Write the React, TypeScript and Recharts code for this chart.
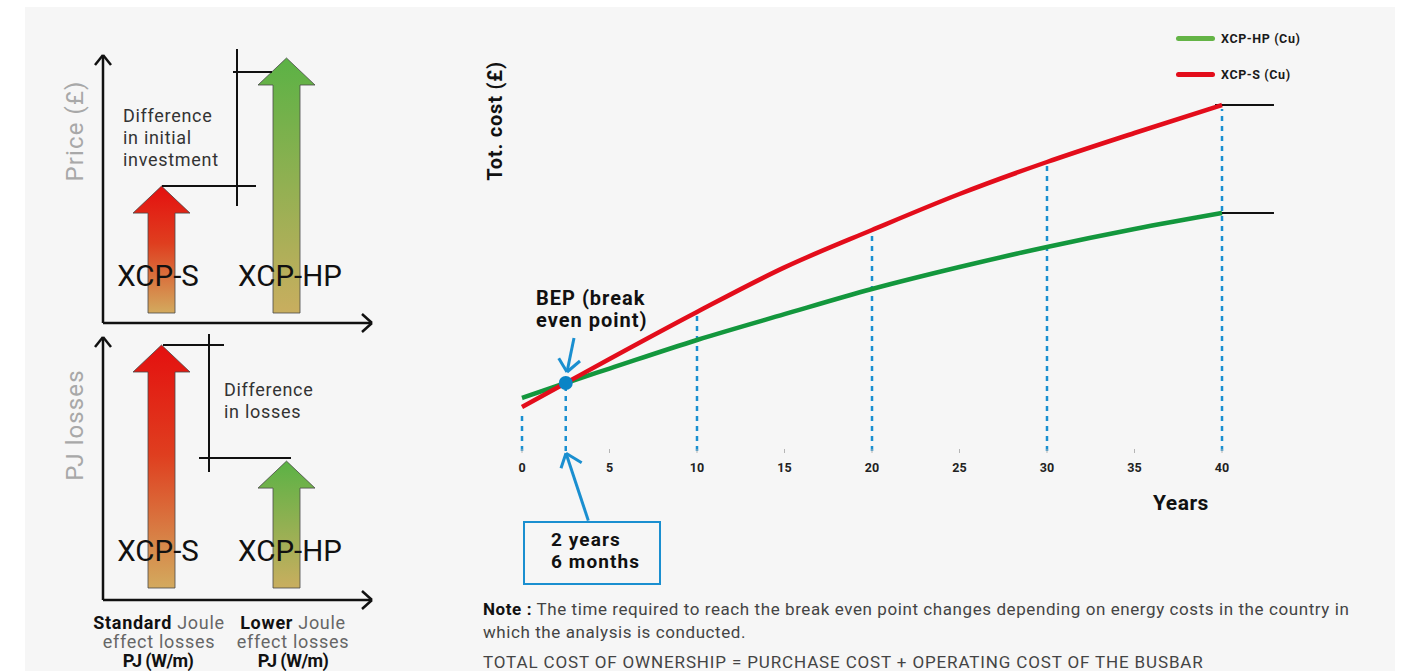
import React from "react";
import {
  BarChart,
  Bar,
  LineChart,
  Line,
  XAxis,
  YAxis,
  ReferenceLine,
  ReferenceDot,
  Legend,
} from "recharts";

// main chart: total cost over time
const years = [0, 2.5, 5, 10, 15, 20, 25, 30, 35, 40];
const xcpS = [11, 17, 23, 34.75, 45.9, 55.25, 64.25, 72.25, 79.5, 86.5];
const xcpHP = [13.25, 17, 20.6, 27.75, 34.2, 40.5, 46, 51, 55.5, 59.5];
const yearTicks = [0, 5, 10, 15, 20, 25, 30, 35, 40];
const markedYears = [0, 2.5, 10, 20, 30, 40];
const bepYear = 2.5;

// left diagrams: arrows
const arrowNames = ["XCP-S", "XCP-HP"];
const arrowPos = [58.5, 183.5];
const priceValues = [4.23, 8.5];
const lossValues = [8.1, 4.23];

const FONT = "Roboto, 'Open Sans', sans-serif";
const BLUE = "#1a8fd0";
const RED = "#e30d1b";
const GREEN = "#13973d";

const lineData = years.map((y, i) => ({ year: y, s: xcpS[i], hp: xcpHP[i] }));
const priceData = arrowNames.map((n, i) => ({ name: n, pos: arrowPos[i], v: priceValues[i] }));
const lossData = arrowNames.map((n, i) => ({ name: n, pos: arrowPos[i], v: lossValues[i] }));

const legendColors: Record<string, string> = { hp: "#64b446", s: RED };

function makeArrow(prefix: string) {
  return function ArrowShape(props: any) {
    const { x, y, width, height, index } = props;
    const head = 27;
    const half = 28.5;
    const cx = x + width / 2;
    const d = `M${x},${y + height} L${x},${y + head} L${cx - half},${y + head} L${cx},${y} L${cx + half},${y + head} L${x + width},${y + head} L${x + width},${y + height} Z`;
    const grad = index === 0 ? `${prefix}Red` : `${prefix}Green`;
    return <path d={d} fill={`url(#${grad})`} stroke="#4a4a4a" strokeWidth={0.8} />;
  };
}

function Grads({ prefix }: { prefix: string }) {
  return (
    <defs>
      <linearGradient id={`${prefix}Red`} x1="0" y1="0" x2="0" y2="1">
        <stop offset="0%" stopColor="#e4100f" />
        <stop offset="45%" stopColor="#df3e1f" />
        <stop offset="100%" stopColor="#d3aa5e" />
      </linearGradient>
      <linearGradient id={`${prefix}Green`} x1="0" y1="0" x2="0" y2="1">
        <stop offset="0%" stopColor="#5bb245" />
        <stop offset="100%" stopColor="#c9ae5f" />
      </linearGradient>
    </defs>
  );
}

type Seg = [number, number, number, number];

function segs(list: Seg[], stroke: string, w: number, key: string) {
  return list.map((s, i) => (
    <ReferenceLine
      key={`${key}${i}`}
      segment={[{ x: s[0], y: s[1] }, { x: s[2], y: s[3] }]}
      stroke={stroke}
      strokeWidth={w}
      ifOverflow="visible"
    />
  ));
}

// axis + bracket lines of the price diagram (data coordinates)
const priceAxis: Seg[] = [
  [0, -0.333, 0, 8.6],
  [-8, 8.267, 0, 8.6],
  [8, 8.267, 0, 8.6],
  [0, -0.333, 269, -0.333],
  [259, -0.033, 269, -0.333],
  [259, -0.633, 269, -0.333],
];
const priceBracket: Seg[] = [
  [59, 4.233, 153, 4.233],
  [134, 8.8, 134, 3.567],
  [130, 8.033, 169, 8.033],
];
const lossAxis: Seg[] = [
  [0, -0.4, 0, 8.367],
  [-8, 8.033, 0, 8.367],
  [8, 8.033, 0, 8.367],
  [0, -0.4, 269, -0.4],
  [259, -0.1, 269, -0.4],
  [259, -0.7, 269, -0.4],
];
const lossBracket: Seg[] = [
  [60, 8.1, 121, 8.1],
  [106, 8.467, 106, 3.867],
  [96, 4.333, 188, 4.333],
];

// blue callout arrows in the main chart
const bepArrows: Seg[] = [
  [2.971, 28.25, 2.571, 19.75],
  [2.1, 23.2, 2.571, 19.75],
  [3.314, 22.5, 2.571, 19.75],
  [3.79, -17.4, 2.514, -0.575],
  [2.229, -4.33, 2.514, -0.575],
  [3.41, -2.93, 2.514, -0.575],
];

function Txt({ x, y, lh, style, children }: any) {
  return (
    <div style={{ position: "absolute", left: x, top: y - lh / 2, lineHeight: `${lh}px`, whiteSpace: "nowrap", ...style }}>
      {children}
    </div>
  );
}

function CenterTxt({ cx, y, lh, style, children }: any) {
  return (
    <div style={{ position: "absolute", left: cx - 150, width: 300, textAlign: "center", top: y - lh / 2, lineHeight: `${lh}px`, whiteSpace: "nowrap", ...style }}>
      {children}
    </div>
  );
}

function Rotated({ cx, cy, style, children }: any) {
  return (
    <div
      style={{
        position: "absolute",
        left: cx - 100,
        top: cy - 15,
        width: 200,
        height: 30,
        lineHeight: "30px",
        textAlign: "center",
        transform: "rotate(-90deg)",
        whiteSpace: "nowrap",
        ...style,
      }}
    >
      {children}
    </div>
  );
}

function LegendBox(props: any) {
  const items = props.payload || [];
  return (
    <div>
      {items.map((it: any) => (
        <div key={it.value} style={{ height: 36, display: "flex", alignItems: "center" }}>
          <span
            style={{
              display: "inline-block",
              width: 39,
              height: 5,
              borderRadius: 3,
              background: legendColors[it.dataKey] || it.color,
              marginRight: 6,
            }}
          />
          <span style={{ fontSize: 12.5, fontWeight: 700, letterSpacing: 0.6, color: "#1a1a1a", fontFamily: FONT }}>{it.value}</span>
        </div>
      ))}
    </div>
  );
}

export default function App() {
  const labelBig = { fontSize: 29.5, color: "#111", fontFamily: FONT };
  const diffStyle = { fontSize: 18, color: "#333", fontFamily: FONT, letterSpacing: 0.7 };
  const axisTitle = { fontSize: 24, color: "#a8a8a8", fontFamily: FONT, letterSpacing: 1.1 };
  const bottomLbl = { fontSize: 18, color: "#666", fontFamily: FONT, letterSpacing: 0.7 };
  const pjLbl = { fontSize: 18, color: "#111", fontWeight: 700, fontFamily: FONT, letterSpacing: -0.6 };
  const boldBig = { fontSize: 20, fontWeight: 700, color: "#111", letterSpacing: 1 };
  const note = { fontSize: 17, color: "#444", letterSpacing: 0.58 };
  return (
    <div style={{ position: "absolute", left: 0, top: 0, width: 1405, height: 671, background: "#fff", overflow: "hidden", fontFamily: FONT }}>
      <div style={{ position: "absolute", left: 25, top: 7, width: 1370, height: 664, background: "#f6f6f6" }} />

      {/* price diagram */}
      <div style={{ position: "absolute", left: 0, top: 0 }}>
        <BarChart width={420} height={340} data={priceData} margin={{ top: 13, right: 48, bottom: 27, left: 103 }}>
          <Grads prefix="p" />
          <XAxis type="number" dataKey="pos" domain={[0, 269]} hide />
          <YAxis type="number" domain={[0, 10]} hide />
          <Bar dataKey="v" barSize={27} shape={makeArrow("p")} isAnimationActive={false} />
          {segs(priceAxis, "#111", 2.5, "pa")}
          {segs(priceBracket, "#111", 2, "pb")}
        </BarChart>
      </div>

      {/* losses diagram */}
      <div style={{ position: "absolute", left: 0, top: 300 }}>
        <BarChart width={420} height={310} data={lossData} margin={{ top: 0, right: 48, bottom: 22, left: 103 }}>
          <Grads prefix="l" />
          <XAxis type="number" dataKey="pos" domain={[0, 269]} hide />
          <YAxis type="number" domain={[0, 9.6]} hide />
          <Bar dataKey="v" barSize={27} shape={makeArrow("l")} isAnimationActive={false} />
          {segs(lossAxis, "#111", 2.5, "la")}
          {segs(lossBracket, "#111", 2, "lb")}
        </BarChart>
      </div>

      <Rotated cx={75} cy={131} style={axisTitle}>Price (£)</Rotated>
      <Rotated cx={75} cy={425} style={axisTitle}>PJ losses</Rotated>

      <Txt x={123} y={116} lh={22} style={diffStyle}>Difference</Txt>
      <Txt x={123} y={138} lh={22} style={diffStyle}>in initial</Txt>
      <Txt x={123} y={160} lh={22} style={diffStyle}>investment</Txt>
      <Txt x={224} y={390} lh={22} style={diffStyle}>Difference</Txt>
      <Txt x={224} y={412} lh={22} style={diffStyle}>in losses</Txt>

      <CenterTxt cx={158} y={276} lh={32} style={labelBig}>XCP-S</CenterTxt>
      <CenterTxt cx={290} y={276} lh={32} style={labelBig}>XCP-HP</CenterTxt>
      <CenterTxt cx={158} y={551} lh={32} style={labelBig}>XCP-S</CenterTxt>
      <CenterTxt cx={290} y={551} lh={32} style={labelBig}>XCP-HP</CenterTxt>

      <CenterTxt cx={159} y={622} lh={19} style={bottomLbl}>
        <b style={{ color: "#111" }}>Standard</b> Joule
      </CenterTxt>
      <CenterTxt cx={159} y={641} lh={19} style={bottomLbl}>effect losses</CenterTxt>
      <CenterTxt cx={158} y={660} lh={19} style={pjLbl}>PJ (W/m)</CenterTxt>
      <CenterTxt cx={293} y={622} lh={19} style={bottomLbl}>
        <b style={{ color: "#111" }}>Lower</b> Joule
      </CenterTxt>
      <CenterTxt cx={293} y={641} lh={19} style={bottomLbl}>effect losses</CenterTxt>
      <CenterTxt cx={293} y={660} lh={19} style={pjLbl}>PJ (W/m)</CenterTxt>

      {/* total cost chart */}
      <div style={{ position: "absolute", left: 470, top: 30 }}>
        <LineChart width={830} height={570} data={lineData} margin={{ top: 21, right: 8, bottom: 119, left: 52 }}>
          <XAxis
            type="number"
            dataKey="year"
            domain={[0, 44]}
            ticks={yearTicks}
            axisLine={false}
            tickSize={4}
            tickMargin={8}
            tickLine={{ stroke: "#b5b5b5", transform: "translate(0,-2)" }}
            tick={{ fontSize: 12.5, fontWeight: 700, fill: "#222", fontFamily: FONT }}
          />
          <YAxis type="number" domain={[0, 100]} width={0} tick={false} tickLine={false} axisLine={{ stroke: "#9a9a9a", strokeWidth: 1.5 }} />
          <Legend
            layout="vertical"
            align="center"
            verticalAlign="middle"
            wrapperStyle={{ left: 706, top: -10, width: 200 }}
            content={LegendBox}
          />
          {markedYears.map((yr) => (
            <ReferenceLine
              key={`d${yr}`}
              segment={[{ x: yr, y: 0 }, { x: yr, y: xcpS[years.indexOf(yr)] - 1 }]}
              stroke={BLUE}
              strokeWidth={2.5}
              strokeDasharray="5 5"
              ifOverflow="visible"
            />
          ))}
          <ReferenceLine segment={[{ x: 39.6, y: xcpS[9] }, { x: 42.97, y: xcpS[9] }]} stroke="#111" strokeWidth={2} ifOverflow="visible" />
          <ReferenceLine segment={[{ x: 39.6, y: xcpHP[9] }, { x: 42.97, y: xcpHP[9] }]} stroke="#111" strokeWidth={2} ifOverflow="visible" />
          <Line type="monotone" dataKey="hp" name="XCP-HP (Cu)" stroke={GREEN} strokeWidth={4.5} dot={false} isAnimationActive={false} />
          <Line type="monotone" dataKey="s" name="XCP-S (Cu)" stroke={RED} strokeWidth={4.5} dot={false} isAnimationActive={false} />
          {segs(bepArrows, BLUE, 3, "ba")}
          <ReferenceDot x={bepYear} y={xcpS[1]} r={7} fill="#0a84c6" stroke="none" ifOverflow="visible" />
        </LineChart>
      </div>

      <Rotated cx={495} cy={121} style={{ fontSize: 20, fontWeight: 700, color: "#111", letterSpacing: 0.8 }}>Tot. cost (£)</Rotated>
      <Txt x={536} y={298} lh={22} style={boldBig}>BEP (break</Txt>
      <Txt x={536} y={320} lh={22} style={boldBig}>even point)</Txt>
      <Txt x={1153} y={503} lh={24} style={{ fontSize: 21, fontWeight: 700, color: "#111", letterSpacing: 0.5 }}>Years</Txt>

      <div
        style={{
          position: "absolute",
          left: 523,
          top: 521,
          width: 138,
          height: 64,
          boxSizing: "border-box",
          border: `2.5px solid ${BLUE}`,
          fontSize: 19,
          fontWeight: 700,
          letterSpacing: 1.1,
          color: "#111",
          lineHeight: "22px",
          paddingLeft: 26,
          paddingTop: 6,
        }}
      >
        <div>2 years</div>
        <div>6 months</div>
      </div>

      <Txt x={483} y={609} lh={22} style={note}>
        <b style={{ color: "#111" }}>Note :</b> The time required to reach the break even point changes depending on energy costs in the country in
      </Txt>
      <Txt x={483} y={632} lh={22} style={note}>which the analysis is conducted.</Txt>
      <Txt x={483} y={662} lh={22} style={{ ...note, letterSpacing: 0.86 }}>
        TOTAL COST OF OWNERSHIP = PURCHASE COST + OPERATING COST OF THE BUSBAR
      </Txt>
    </div>
  );
}
